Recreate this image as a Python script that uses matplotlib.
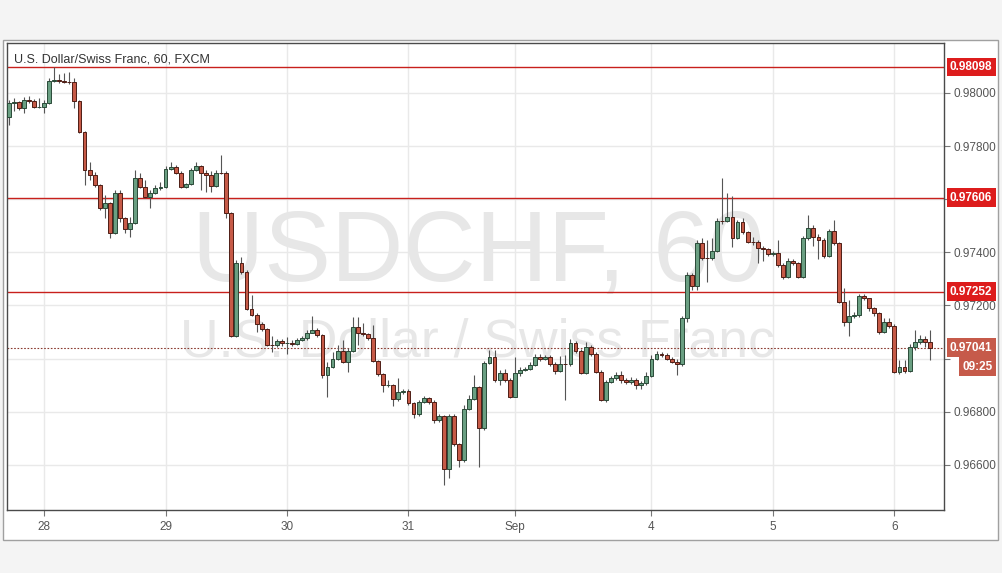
import matplotlib
matplotlib.use('Agg')
import matplotlib.pyplot as plt
import numpy as np
from matplotlib.patches import Rectangle

plt.rcParams['font.family'] = ['Liberation Sans', 'DejaVu Sans']

# ---------------- data (USD/CHF, 60 min, FXCM) ----------------
first_open = 0.97910
closes = [
    0.97962, 0.97966, 0.97944, 0.97974, 0.97971, 0.97949, 0.97949, 0.97964, 0.98046, 0.98049,
    0.98045, 0.98043, 0.98042, 0.97970, 0.97854, 0.97710, 0.97691, 0.97654, 0.97566, 0.97585,
    0.97474, 0.97622, 0.97528, 0.97487, 0.97512, 0.97679, 0.97647, 0.97610, 0.97625, 0.97641,
    0.97647, 0.97713, 0.97723, 0.97700, 0.97647, 0.97657, 0.97710, 0.97725, 0.97700, 0.97691,
    0.97650, 0.97700, 0.97699, 0.97547, 0.97085, 0.97359, 0.97327, 0.97186, 0.97164, 0.97130,
    0.97110, 0.97051, 0.97050, 0.97067, 0.97057, 0.97057, 0.97056, 0.97070, 0.97076, 0.97097,
    0.97108, 0.97089, 0.96938, 0.96969, 0.96997, 0.97030, 0.96988, 0.97030, 0.97118, 0.97097,
    0.97093, 0.97076, 0.96992, 0.96941, 0.96900, 0.96901, 0.96847, 0.96875, 0.96879, 0.96832,
    0.96791, 0.96838, 0.96850, 0.96838, 0.96769, 0.96784, 0.96583, 0.96784, 0.96678, 0.96618,
    0.96809, 0.96847, 0.96892, 0.96737, 0.96983, 0.97005, 0.96919, 0.96947, 0.96919, 0.96854,
    0.96947, 0.96957, 0.96960, 0.96976, 0.97005, 0.96997, 0.97005, 0.96980, 0.96954, 0.96980,
    0.96979, 0.97060, 0.97030, 0.96947, 0.97045, 0.97017, 0.96951, 0.96844, 0.96913, 0.96926,
    0.96938, 0.96919, 0.96913, 0.96919, 0.96900, 0.96906, 0.96934, 0.96997, 0.97016, 0.97015,
    0.96998, 0.96988, 0.96978, 0.97152, 0.97315, 0.97274, 0.97434, 0.97378, 0.97377, 0.97405,
    0.97518, 0.97517, 0.97534, 0.97455, 0.97513, 0.97476, 0.97440, 0.97439, 0.97415, 0.97413,
    0.97393, 0.97396, 0.97352, 0.97308, 0.97367, 0.97359, 0.97308, 0.97453, 0.97493, 0.97459,
    0.97447, 0.97387, 0.97480, 0.97434, 0.97214, 0.97137, 0.97161, 0.97164, 0.97237, 0.97227,
    0.97189, 0.97170, 0.97099, 0.97137, 0.97124, 0.96948, 0.96969, 0.96953, 0.97045, 0.97064,
    0.97074, 0.97064, 0.97041,
]
highs = [
    0.97975, 0.97981, 0.97970, 0.97985, 0.97989, 0.97977, 0.97981, 0.97974, 0.98057, 0.98098,
    0.98072, 0.98075, 0.98079, 0.98057, 0.97974, 0.97857, 0.97740, 0.97703, 0.97657, 0.97616,
    0.97590, 0.97635, 0.97635, 0.97533, 0.97533, 0.97710, 0.97699, 0.97672, 0.97635, 0.97654,
    0.97665, 0.97725, 0.97740, 0.97729, 0.97706, 0.97661, 0.97718, 0.97741, 0.97729, 0.97710,
    0.97706, 0.97710, 0.97767, 0.97706, 0.97552, 0.97371, 0.97382, 0.97334, 0.97239, 0.97172,
    0.97138, 0.97115, 0.97085, 0.97074, 0.97074, 0.97081, 0.97070, 0.97077, 0.97085, 0.97108,
    0.97160, 0.97115, 0.97093, 0.96987, 0.97025, 0.97051, 0.97070, 0.97040, 0.97158, 0.97158,
    0.97134, 0.97096, 0.97126, 0.96995, 0.96946, 0.96919, 0.96904, 0.96927, 0.96885, 0.96885,
    0.96836, 0.96844, 0.96859, 0.96855, 0.96844, 0.96791, 0.96787, 0.96791, 0.96791, 0.96682,
    0.96825, 0.96863, 0.96938, 0.96897, 0.96991, 0.97032, 0.97032, 0.96957, 0.96961, 0.96927,
    0.97006, 0.96968, 0.96968, 0.96987, 0.97017, 0.97017, 0.97013, 0.97013, 0.96987, 0.97010,
    0.97013, 0.97074, 0.97066, 0.97036, 0.97062, 0.97051, 0.97025, 0.96957, 0.96919, 0.96934,
    0.96949, 0.96953, 0.96927, 0.96931, 0.96927, 0.96916, 0.96949, 0.97013, 0.97028, 0.97025,
    0.97021, 0.97006, 0.96998, 0.97160, 0.97326, 0.97322, 0.97447, 0.97455, 0.97447, 0.97455,
    0.97529, 0.97679, 0.97622, 0.97613, 0.97522, 0.97531, 0.97480, 0.97458, 0.97447, 0.97424,
    0.97416, 0.97405, 0.97447, 0.97360, 0.97379, 0.97375, 0.97364, 0.97462, 0.97541, 0.97503,
    0.97469, 0.97454, 0.97488, 0.97522, 0.97439, 0.97266, 0.97221, 0.97175, 0.97243, 0.97243,
    0.97221, 0.97194, 0.97175, 0.97153, 0.97153, 0.97130, 0.96995, 0.96995, 0.97055, 0.97108,
    0.97089, 0.97085, 0.97108,
]
lows = [
    0.97880, 0.97932, 0.97936, 0.97925, 0.97962, 0.97944, 0.97944, 0.97925, 0.97959, 0.98042,
    0.98038, 0.98038, 0.98034, 0.97944, 0.97849, 0.97654, 0.97672, 0.97646, 0.97559, 0.97529,
    0.97454, 0.97469, 0.97514, 0.97473, 0.97458, 0.97507, 0.97642, 0.97605, 0.97567, 0.97620,
    0.97635, 0.97642, 0.97710, 0.97695, 0.97642, 0.97642, 0.97654, 0.97706, 0.97635, 0.97627,
    0.97627, 0.97646, 0.97695, 0.97529, 0.97081, 0.97081, 0.97319, 0.97183, 0.97160, 0.97100,
    0.97104, 0.97047, 0.97025, 0.97044, 0.97047, 0.97017, 0.97047, 0.97051, 0.97066, 0.97070,
    0.97096, 0.97081, 0.96927, 0.96855, 0.96964, 0.96995, 0.96983, 0.96949, 0.97025, 0.97051,
    0.97085, 0.97070, 0.96987, 0.96934, 0.96874, 0.96893, 0.96821, 0.96840, 0.96867, 0.96825,
    0.96776, 0.96784, 0.96833, 0.96829, 0.96757, 0.96761, 0.96524, 0.96550, 0.96671, 0.96592,
    0.96610, 0.96806, 0.96844, 0.96592, 0.96731, 0.96980, 0.96912, 0.96900, 0.96912, 0.96851,
    0.96931, 0.96934, 0.96953, 0.96957, 0.96972, 0.96991, 0.96995, 0.96972, 0.96942, 0.96949,
    0.96844, 0.96972, 0.97021, 0.96942, 0.96942, 0.97010, 0.96946, 0.96840, 0.96836, 0.96908,
    0.96919, 0.96908, 0.96904, 0.96904, 0.96885, 0.96885, 0.96900, 0.96931, 0.96995, 0.97006,
    0.96995, 0.96983, 0.96938, 0.96972, 0.97138, 0.97258, 0.97258, 0.97371, 0.97289, 0.97371,
    0.97401, 0.97507, 0.97514, 0.97421, 0.97450, 0.97469, 0.97435, 0.97428, 0.97359, 0.97367,
    0.97386, 0.97386, 0.97345, 0.97300, 0.97303, 0.97352, 0.97303, 0.97303, 0.97447, 0.97424,
    0.97375, 0.97379, 0.97382, 0.97428, 0.97209, 0.97123, 0.97086, 0.97153, 0.97156, 0.97221,
    0.97179, 0.97160, 0.97093, 0.97096, 0.97115, 0.96946, 0.96942, 0.96946, 0.96949, 0.97032,
    0.97055, 0.97044, 0.96995,
]
day_ticks = [7, 31, 55, 79, 100, 127, 151, 175]
day_labels = ['28', '29', '30', '31', 'Sep', '4', '5', '6']
price_ticks = [0.966, 0.968, 0.970, 0.972, 0.974, 0.976, 0.978, 0.980]
hidden_ticks = [0.970, 0.976]          # labels covered by the price boxes
levels = [0.98098, 0.97606, 0.97252]
last_price = 0.97041
countdown = '09:25'
title = 'U.S. Dollar/Swiss Franc, 60, FXCM'
watermark1 = 'USDCHF, 60'
watermark2 = 'U.S. Dollar / Swiss Franc'

# ---------------- figure ----------------
W, H = 1002, 573
fig = plt.figure(figsize=(W / 100, H / 100), dpi=100, facecolor='#f4f4f4')
frame = Rectangle((3 / W, 33 / H), 995 / W, 500 / H, transform=fig.transFigure,
                  facecolor='white', edgecolor='#a0a0a0', lw=1, zorder=-5)
fig.add_artist(frame)
ax = fig.add_axes([7 / W, 63 / H, 937 / W, 467 / H])
ax.set_zorder(1)
ax.set_facecolor('white')

n = len(closes)
idx = np.arange(n)
c = np.array(closes)
o = np.array([first_open] + closes[:-1])
h = np.maximum(np.array(highs), np.maximum(o, c))
l = np.minimum(np.array(lows), np.minimum(o, c))
up = c >= o

ax.vlines(idx, l, h, color='#555555', lw=0.8, zorder=3)
bot = np.minimum(o, c)
hgt = np.abs(c - o)
ax.bar(idx[up], hgt[up], bottom=bot[up], width=0.76, color='#6a9f82',
       edgecolor='#2a4a38', lw=0.7, zorder=4)
ax.bar(idx[~up], hgt[~up], bottom=bot[~up], width=0.76, color='#c65a47',
       edgecolor='#4e1d15', lw=0.7, zorder=4)

# support / resistance lines
for lv in levels:
    ax.axhline(lv, color='#c8201c', lw=1.0, zorder=2)
ax.axhline(last_price, color='#8a3b30', lw=0.8, ls=(0, (1.5, 1.5)), zorder=2)

# watermark & title
ax.text(0.503, 0.545, watermark1, transform=ax.transAxes, fontsize=72, color='#e7e7e7',
        ha='center', va='center', zorder=1)
ax.text(0.502, 0.358, watermark2, transform=ax.transAxes, fontsize=38.5, color='#e7e7e7',
        ha='center', va='center', zorder=1)
ax.text(0.0075, 0.964, title, transform=ax.transAxes, fontsize=9, color='#333333',
        ha='left', va='center', zorder=6)

# axes
ax.set_xlim(-0.32, 184.8)
ax.set_ylim(0.964294, 0.981883)
ax.set_xticks(day_ticks)
ax.set_xticklabels(day_labels)
ax.yaxis.tick_right()
ax.set_yticks(price_ticks)
ax.set_yticklabels(['' if p in hidden_ticks else f'{p:.5f}' for p in price_ticks])
ax.tick_params(axis='both', colors='#777777', labelcolor='#555555', labelsize=8.5, length=4, width=0.8)
ax.tick_params(axis='y', pad=3)
ax.tick_params(axis='x', pad=4)
ax.grid(True, color='#e9e9e9', lw=1, zorder=0)
ax.set_axisbelow(True)
for s in ax.spines.values():
    s.set_color('#4a4a4a')
    s.set_linewidth(1)

ytr = ax.get_yaxis_transform()
for lv in levels:
    ax.annotate(f'{lv:.5f}', xy=(1, lv), xycoords=ytr, xytext=(6, 0), textcoords='offset pixels',
                ha='left', va='center', fontsize=8.5, fontweight='bold', color='white',
                bbox=dict(boxstyle='square,pad=0.28', fc='#dd1c1c', ec='none'),
                annotation_clip=False, zorder=10)
ax.annotate(f'{last_price:.5f}', xy=(1, last_price), xycoords=ytr, xytext=(6, 0),
            textcoords='offset pixels', ha='left', va='center', fontsize=8.5, fontweight='bold',
            color='white', bbox=dict(boxstyle='square,pad=0.28', fc='#c65a4a', ec='none'),
            annotation_clip=False, zorder=10)
ax.annotate(countdown, xy=(1, last_price), xycoords=ytr, xytext=(49, -19),
            textcoords='offset pixels', ha='right', va='center', fontsize=8.5, fontweight='bold',
            color='white', bbox=dict(boxstyle='square,pad=0.28', fc='#c65a4a', ec='none'),
            annotation_clip=False, zorder=10)

fig.savefig('out.png', dpi=100, facecolor=fig.get_facecolor())
